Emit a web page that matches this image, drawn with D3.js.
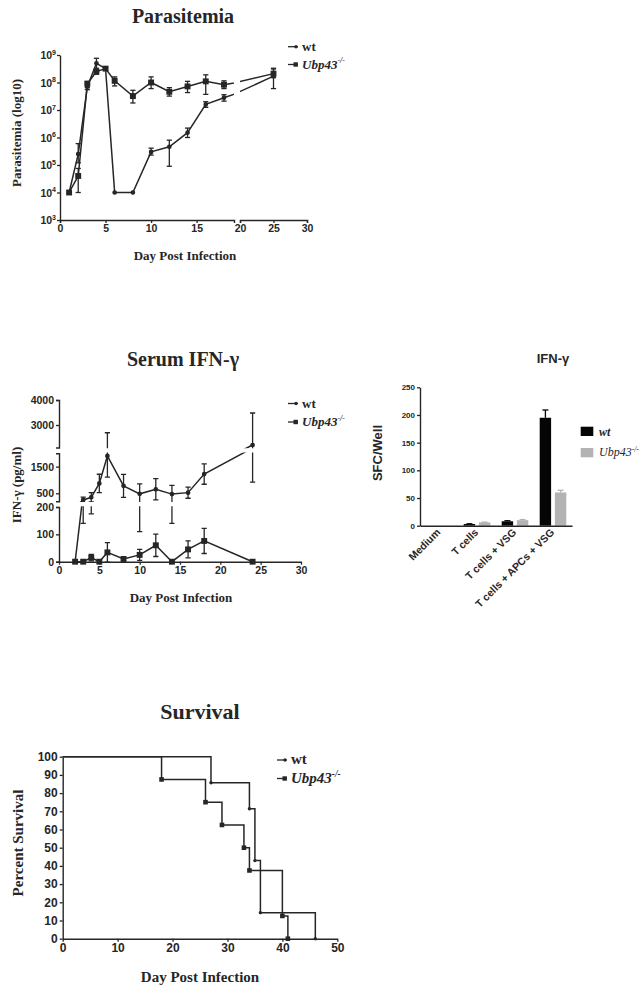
<!DOCTYPE html>
<html><head><meta charset="utf-8">
<script src="https://cdn.jsdelivr.net/npm/d3@7"></script>
<style>body{margin:0;background:#fff}</style>
</head><body>
<svg id="c" width="643" height="993" xmlns="http://www.w3.org/2000/svg"></svg>
<script>
// ================= DATA =================
// Parasitemia
const paraDays   = [1, 2, 3, 4, 5, 6, 8, 10, 12, 14, 16, 18, 25];
const paraUbp    = [1e4, 4e4, 9e7, 2.5e8, 3.2e8, 1.15e8, 3.2e7, 1e8, 4.6e7, 7.2e7, 1.1e8, 8.3e7, 2.1e8];
const paraUbpLo  = [null, 1e4, 6.5e7, 2e8, 2.8e8, 7.5e7, 1.8e7, 6e7, 3.2e7, 4.3e7, 3.7e7, 6e7, 1.5e8];
const paraUbpHi  = [null, 7.5e4, 1.1e8, 3e8, 3.6e8, 1.6e8, 5.2e7, 1.6e8, 6.5e7, 1.1e8, 1.9e8, 1.15e8, 3.1e8];
const paraWt     = [1e4, 2.5e5, 7e7, 5e8, 3.2e8, 1e4, 1e4, 3e5, 4.6e5, 1.5e6, 1.6e7, 2.8e7, 1.7e8];
const paraWtLo   = [null, 1.2e5, 5.5e7, 3.3e8, null, null, null, 2.3e5, 9e4, 1e6, 1.25e7, 2.1e7, 6e7];
const paraWtHi   = [null, 6e5, 9e7, 7.6e8, null, null, null, 4.1e5, 8e5, 2.2e6, 2e7, 3.6e7, 3.3e8];
const paraYTicks = [3, 4, 5, 6, 7, 8, 9];   // exponents of 10

// Serum IFN-gamma (pg/ml)
const serumDays  = [2, 3, 4, 5, 6, 8, 10, 12, 14, 16, 18, 24];
const serumWt    = [0, 250, 350, 870, 1900, 780, 480, 650, 470, 525, 1220, 2200];
const serumWtErr = [0, 110, 175, 345, 790, 430, 370, 400, 330, 210, 380, 1280];
const serumUbp   = [0, 0, 15, 0, 34, 10, 25, 60, 0, 45, 76, 0];
const serumUbpErr= [0, 0, 12, 0, 36, 6, 20, 41, 0, 31, 46, 0];

// ELISPOT IFN-gamma
const elCategories = ["Medium", "T cells", "T cells + VSG", "T cells + APCs + VSG"];
const elWt     = [0, 3, 8, 195];
const elWtErr  = [0, 0.5, 1, 14];
const elUbp    = [0, 6, 10, 60];
const elUbpErr = [0, 0.5, 1, 4];
const elYTicks = [0, 50, 100, 150, 200, 250];

// Survival (Kaplan-Meier steps)
const survWtDays  = [0, 27, 34, 35, 36, 46];
const survWtPct   = [100, 85.7, 71.4, 42.9, 14.3, 0];
const survUbpDays = [0, 18, 26, 29, 33, 34, 40, 41];
const survUbpPct  = [100, 87.5, 75, 62.5, 50, 37.5, 12.5, 0];
const survXTicks = [0, 10, 20, 30, 40, 50];
const survYTicks = [0, 10, 20, 30, 40, 50, 60, 70, 80, 90, 100];

// ================= STYLE =================
const SERIF = "'Liberation Serif','Times New Roman',serif";
const SANS = "'Liberation Sans',Arial,sans-serif";
const INK = "#262626";
const svg = d3.select("#c");
const defs = svg.append("defs");

function styleAxis(g, fs) {
  g.selectAll("path.domain").attr("stroke", INK).attr("stroke-width", 1.4);
  g.selectAll(".tick line").attr("stroke", INK).attr("stroke-width", 1.3);
  g.selectAll(".tick text").attr("fill", INK).attr("font-family", SANS)
    .attr("font-weight", "bold").attr("font-size", fs);
}
function label(x, y, str, fs, opts = {}) {
  const t = svg.append("text").attr("x", x).attr("y", y).text(str)
    .attr("font-family", opts.family || SERIF).attr("font-weight", opts.weight || "bold")
    .attr("font-size", fs).attr("fill", INK).attr("text-anchor", opts.anchor || "middle");
  if (opts.rotate) t.attr("transform", `rotate(${opts.rotate},${x},${y})`);
  if (opts.italic) t.attr("font-style", "italic");
  return t;
}
function legendEntry(x, y, isSquare, fs, name, italic) {
  svg.append("line").attr("x1", x).attr("x2", x + 10).attr("y1", y).attr("y2", y)
    .attr("stroke", INK).attr("stroke-width", 1.3);
  if (isSquare) svg.append("rect").attr("x", x + 5.5).attr("y", y - 2.2).attr("width", 4.4).attr("height", 4.4).attr("fill", INK);
  else svg.append("circle").attr("cx", x + 8).attr("cy", y).attr("r", 1.7).attr("fill", INK);
  const t = svg.append("text").attr("x", x + 14).attr("y", y + 4).attr("font-family", SERIF)
    .attr("font-weight", "bold").attr("font-size", fs).attr("fill", INK);
  if (italic) {
    t.append("tspan").attr("font-style", "italic").text(name);
    t.append("tspan").attr("font-style", "italic").attr("font-size", fs * 0.62).attr("dy", -fs * 0.4).text("-/-");
  } else t.text(name);
}
function clipRect(id, x0, y0, x1, y1) {
  defs.append("clipPath").attr("id", id).append("rect")
    .attr("x", x0).attr("y", y0).attr("width", x1 - x0).attr("height", y1 - y0);
  return `url(#${id})`;
}
function errBar(g, x, yLo, yHi, cap = 2.6) {
  g.append("line").attr("x1", x).attr("x2", x).attr("y1", yLo).attr("y2", yHi);
  g.append("line").attr("x1", x - cap).attr("x2", x + cap).attr("y1", yLo).attr("y2", yLo);
  g.append("line").attr("x1", x - cap).attr("x2", x + cap).attr("y1", yHi).attr("y2", yHi);
}
function marker(g, x, y, sq) {
  if (sq) g.append("rect").attr("x", x - 2.3).attr("y", y - 2.3).attr("width", 4.6).attr("height", 4.6).attr("fill", INK);
  else g.append("circle").attr("cx", x).attr("cy", y).attr("r", 1.7).attr("fill", INK);
}

// ================= PARASITEMIA =================
(function () {
  const x1 = d3.scaleLinear().domain([0, 19.1]).range([60, 234]);
  const x2 = d3.scaleLinear().domain([20, 30]).range([240, 307]);
  const y = d3.scaleLog().domain([1e3, 1e9]).range([220, 55]);
  const segs = [{ x: x1, clip: clipRect("pc1", 58, 40, 234, 226) },
                { x: x2, clip: clipRect("pc2", 240, 40, 312, 226) }];
  const series = [
    { v: paraUbp, lo: paraUbpLo, hi: paraUbpHi, sq: true },
    { v: paraWt, lo: paraWtLo, hi: paraWtHi, sq: false }];
  segs.forEach(s => {
    const g = svg.append("g").attr("clip-path", s.clip)
      .attr("stroke", INK).attr("stroke-width", 1.3).attr("fill", "none");
    series.forEach(se => {
      const pts = paraDays.map((d, i) => [s.x(d), y(se.v[i])]);
      g.append("path").attr("d", d3.line()(pts)).attr("stroke-width", 1.5);
      paraDays.forEach((d, i) => {
        if (se.lo[i] != null) errBar(g, s.x(d), y(se.lo[i]), y(se.hi[i]));
      });
      paraDays.forEach((d, i) => marker(g, s.x(d), y(se.v[i]), se.sq));
    });
  });
  const ax1 = svg.append("g").attr("transform", "translate(0,220)")
    .call(d3.axisBottom(x1).tickValues([0, 5, 10, 15]).tickSize(3).tickSizeOuter(3).tickPadding(2));
  const ax2 = svg.append("g").attr("transform", "translate(0,220)")
    .call(d3.axisBottom(x2).tickValues([20, 25, 30]).tickSize(3).tickSizeOuter(3).tickPadding(2));
  styleAxis(ax1, 10.5); styleAxis(ax2, 10.5);
  const ay = svg.append("g").attr("transform", "translate(60,0)")
    .call(d3.axisLeft(y).tickValues(paraYTicks.map(e => Math.pow(10, e))).tickSize(3).tickSizeOuter(0).tickFormat(""));
  styleAxis(ay, 10.5);
  paraYTicks.forEach(e => {
    const t = svg.append("text").attr("x", 56).attr("y", y(Math.pow(10, e)) + 4)
      .attr("text-anchor", "end").attr("font-family", SANS).attr("font-weight", "bold")
      .attr("font-size", 10.5).attr("fill", INK);
    t.append("tspan").text("10");
    t.append("tspan").attr("font-size", 7).attr("dy", -4.5).text(String(e));
  });
  label(183, 23, "Parasitemia", 20);
  label(21, 133, "Parasitemia (log10)", 13, { rotate: -90 });
  label(185, 260, "Day Post Infection", 13);
  legendEntry(288, 46.7, false, 13, "wt");
  legendEntry(288, 64.5, true, 13, "Ubp43", true);
})();

// ================= SERUM IFN-gamma =================
(function () {
  const x = d3.scaleLinear().domain([0, 30]).range([59, 301]);
  const segs = [
    { dom: [0, 200], rng: [561.7, 507], ticks: [0, 100, 200], pad: 4 },
    { dom: [200, 2000], rng: [501.3, 453.3], ticks: [500, 1500], pad: 0 },
    { dom: [2100, 4000], rng: [447.5, 400], ticks: [3000, 4000], pad: 0 }];
  const series = [
    { v: serumWt, e: serumWtErr, sq: false },
    { v: serumUbp, e: serumUbpErr, sq: true }];
  segs.forEach((s, k) => {
    const y = d3.scaleLinear().domain(s.dom).range(s.rng);
    const clip = clipRect("sc" + k, 55, s.rng[1] - 0.7, 305, s.rng[0] + s.pad + 0.7);
    const g = svg.append("g").attr("clip-path", clip)
      .attr("stroke", INK).attr("stroke-width", 1.3).attr("fill", "none");
    series.forEach(se => {
      const pts = serumDays.map((d, i) => [x(d), y(se.v[i])]);
      g.append("path").attr("d", d3.line()(pts)).attr("stroke-width", 1.5);
      serumDays.forEach((d, i) => {
        if (se.e[i] > 0) errBar(g, x(d), y(se.v[i] - se.e[i]), y(se.v[i] + se.e[i]));
      });
      serumDays.forEach((d, i) => {
        const v = se.v[i];
        if (v >= s.dom[0] && v <= s.dom[1] || (k === 0 && v === 0)) marker(g, x(d), y(v), se.sq);
      });
    });
    const ay = svg.append("g").attr("transform", "translate(59,0)")
      .call(d3.axisLeft(y).tickValues(s.ticks).tickSize(3).tickSizeOuter(3).tickPadding(2).tickFormat(d3.format("d")));
    styleAxis(ay, 10.5);
  });
  const ax = svg.append("g").attr("transform", "translate(0,561.7)")
    .call(d3.axisBottom(x).tickValues([0, 5, 10, 15, 20, 25, 30]).tickSize(3).tickSizeOuter(0).tickPadding(2));
  styleAxis(ax, 10.5);
  label(183, 366, "Serum IFN-γ", 20);
  label(21, 485, "IFN-γ (pg/ml)", 13, { rotate: -90 });
  label(181, 602, "Day Post Infection", 13);
  legendEntry(288, 403.5, false, 13, "wt");
  legendEntry(288, 422, true, 13, "Ubp43", true);
})();

// ================= ELISPOT IFN-gamma bars =================
(function () {
  const x0 = d3.scaleBand().domain(elCategories).range([420, 572]).paddingInner(0.3).paddingOuter(0.15);
  const x1 = d3.scaleBand().domain(["wt", "ubp"]).range([0, x0.bandwidth()]).paddingInner(0.25);
  const y = d3.scaleLinear().domain([0, 250]).range([525.7, 387.3]);
  const groups = [
    { key: "wt", v: elWt, e: elWtErr, color: "#050505" },
    { key: "ubp", v: elUbp, e: elUbpErr, color: "#b3b3b3" }];
  groups.forEach(gr => {
    const g = svg.append("g");
    elCategories.forEach((c, i) => {
      const bx = x0(c) + x1(gr.key);
      if (gr.v[i] > 0) {
        g.append("rect").attr("x", bx).attr("y", y(gr.v[i])).attr("width", x1.bandwidth())
          .attr("height", y(0) - y(gr.v[i])).attr("fill", gr.color);
        const cx = bx + x1.bandwidth() / 2;
        g.append("line").attr("x1", cx).attr("x2", cx).attr("y1", y(gr.v[i])).attr("y2", y(gr.v[i] + gr.e[i]))
          .attr("stroke", gr.color).attr("stroke-width", 1.3);
        g.append("line").attr("x1", cx - 3).attr("x2", cx + 3).attr("y1", y(gr.v[i] + gr.e[i])).attr("y2", y(gr.v[i] + gr.e[i]))
          .attr("stroke", gr.color).attr("stroke-width", 1.3);
      }
    });
  });
  const ay = svg.append("g").attr("transform", "translate(420,0)")
    .call(d3.axisLeft(y).tickValues(elYTicks).tickSize(3).tickSizeOuter(0).tickPadding(2));
  styleAxis(ay, 8);
  const ax = svg.append("g").attr("transform", "translate(0,525.7)")
    .call(d3.axisBottom(x0).tickSize(0).tickSizeOuter(0).tickFormat(""));
  styleAxis(ax, 8);
  elCategories.forEach(c => {
    const cx = x0(c) + x0.bandwidth() / 2 + 2, cy = 533;
    svg.append("text").attr("x", cx).attr("y", cy).attr("text-anchor", "end")
      .attr("transform", `rotate(-45,${cx},${cy})`).attr("font-family", SANS)
      .attr("font-weight", "bold").attr("font-size", 10.5).attr("fill", INK).text(c);
  });
  label(553, 363, "IFN-γ", 13, { family: SANS });
  label(382, 453, "SFC/Well", 13, { family: SANS, rotate: -90 });
  // legend
  svg.append("rect").attr("x", 580.7).attr("y", 426.7).attr("width", 12.6).attr("height", 9.3).attr("fill", groups[0].color);
  svg.append("rect").attr("x", 580.7).attr("y", 448).attr("width", 12.6).attr("height", 9.3).attr("fill", groups[1].color);
  label(599, 435.5, "wt", 12, { anchor: "start", italic: true });
  const t = label(599, 456, "", 12, { anchor: "start", italic: true, weight: "normal" });
  t.append("tspan").text("Ubp43");
  t.append("tspan").attr("font-size", 7.5).attr("dy", -4.5).text("-/-");
})();

// ================= SURVIVAL =================
(function () {
  const x = d3.scaleLinear().domain([0, 50]).range([62.7, 337.3]);
  const y = d3.scaleLinear().domain([0, 100]).range([938.7, 756.7]);
  const line = d3.line().curve(d3.curveStepAfter).x(d => x(d[0])).y(d => y(d[1]));
  const curves = [
    { d: survUbpDays, p: survUbpPct, sq: true },
    { d: survWtDays, p: survWtPct, sq: false }];
  curves.forEach(c => {
    const pts = c.d.map((d, i) => [d, c.p[i]]);
    svg.append("path").attr("d", line(pts)).attr("fill", "none").attr("stroke", INK).attr("stroke-width", 1.5);
    const g = svg.append("g");
    c.d.forEach((d, i) => { if (i > 0) marker(g, x(d), y(c.p[i]), c.sq); });
  });
  const ax = svg.append("g").attr("transform", "translate(0,938.7)")
    .call(d3.axisBottom(x).tickValues(survXTicks).tickSize(3).tickSizeOuter(0).tickPadding(2));
  styleAxis(ax, 12);
  const ay = svg.append("g").attr("transform", "translate(62.7,0)")
    .call(d3.axisLeft(y).tickValues(survYTicks).tickSize(3).tickSizeOuter(0).tickPadding(2));
  styleAxis(ay, 12);
  label(200, 719, "Survival", 22);
  label(23, 843, "Percent Survival", 15, { rotate: -90 });
  label(200, 982, "Day Post Infection", 15);
  legendEntry(277, 760, false, 15, "wt");
  legendEntry(277, 778.5, true, 15, "Ubp43", true);
})();
</script>
</body></html>
